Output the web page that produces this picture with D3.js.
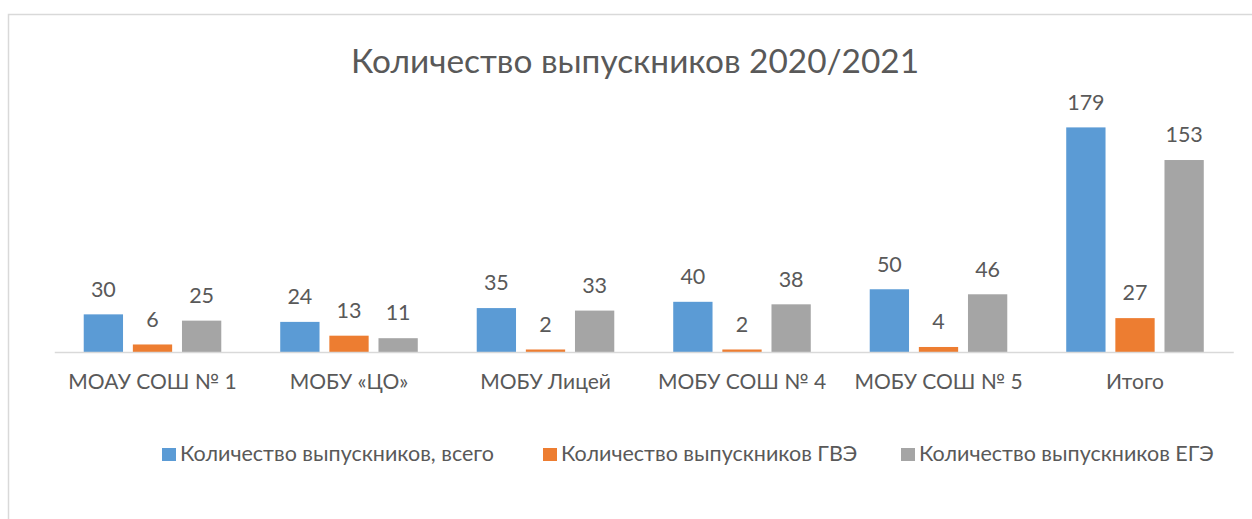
<!DOCTYPE html>
<html>
<head>
<meta charset="utf-8">
<script src="https://cdn.jsdelivr.net/npm/d3@7.9.0/dist/d3.min.js"></script>
<style>
  html, body { margin: 0; padding: 0; background: #fff; }
  svg { display: block; font-family: Lato, "Open Sans", sans-serif; }
</style>
</head>
<body>
<svg id="chart" width="1252" height="519"></svg>
<script>
// categories and series
const schools = ['МОАУ СОШ № 1', 'МОБУ «ЦО»', 'МОБУ Лицей', 'МОБУ СОШ № 4', 'МОБУ СОШ № 5', 'Итого'];
const seriesNames = ['Количество выпускников, всего', 'Количество выпускников ГВЭ', 'Количество выпускников ЕГЭ'];
const totalGrads = [30, 24, 35, 40, 50, 179];
const gveGrads = [6, 13, 2, 2, 4, 27];
const egeGrads = [25, 11, 33, 38, 46, 153];
const colors = ['#5B9BD5', '#ED7D31', '#A5A5A5'];

const values = [totalGrads, gveGrads, egeGrads];
const rows = schools.map((s, i) => ({ school: s, vals: values.map(v => v[i]) }));

const svg = d3.select('#chart');
const textColor = '#595959';

// chart frame (the right and bottom edges are off the picture)
svg.append('path')
  .attr('d', 'M8.5,519 V14.5 H1252')
  .attr('fill', 'none')
  .attr('stroke', '#d9d9d9')
  .attr('stroke-width', 1.5);

// title
svg.append('text')
  .attr('x', 635)
  .attr('y', 73)
  .attr('text-anchor', 'middle')
  .attr('font-size', 33.4)
  .attr('fill', textColor)
  .text('Количество выпускников 2020/2021');

// scales
const x0 = d3.scaleBand().domain(schools).range([54.25, 1233.25]);
const x1 = d3.scaleBand().domain(d3.range(3)).range([0, x0.bandwidth()])
  .paddingInner(0.2).paddingOuter(0.6);
const y = d3.scaleLinear().domain([0, 179]).range([352, 127.4]);

// bars
const groups = svg.append('g').selectAll('g')
  .data(rows)
  .join('g')
  .attr('transform', d => `translate(${x0(d.school)},0)`);

groups.selectAll('rect')
  .data(d => d.vals)
  .join('rect')
  .attr('x', (d, i) => x1(i))
  .attr('y', d => y(d))
  .attr('width', x1.bandwidth())
  .attr('height', d => y(0) - y(d))
  .attr('fill', (d, i) => colors[i]);

// value labels
groups.selectAll('text')
  .data(d => d.vals)
  .join('text')
  .attr('x', (d, i) => x1(i) + x1.bandwidth() / 2)
  .attr('y', d => y(d) - 17.7)
  .attr('text-anchor', 'middle')
  .attr('font-size', 21.5)
  .attr('fill', textColor)
  .text(d => d);

// category axis
const xAxis = svg.append('g')
  .attr('transform', `translate(0,${y(0)})`)
  .call(d3.axisBottom(x0).tickSize(0).tickPadding(22.5));
xAxis.select('.domain').attr('stroke', '#d9d9d9').attr('stroke-width', 1.5);
xAxis.selectAll('text')
  .attr('font-size', 21)
  .attr('font-family', 'Lato, "Open Sans", sans-serif')
  .attr('fill', textColor);

// legend
const legendX = [162, 543, 901];
const legend = svg.append('g').selectAll('g')
  .data(seriesNames)
  .join('g')
  .attr('transform', (d, i) => `translate(${legendX[i]},448)`);
legend.append('rect')
  .attr('width', 14)
  .attr('height', 13)
  .attr('fill', (d, i) => colors[i]);
legend.append('text')
  .attr('x', 18)
  .attr('y', 13)
  .attr('font-size', 21.5)
  .attr('fill', textColor)
  .text(d => d);
</script>
</body>
</html>
